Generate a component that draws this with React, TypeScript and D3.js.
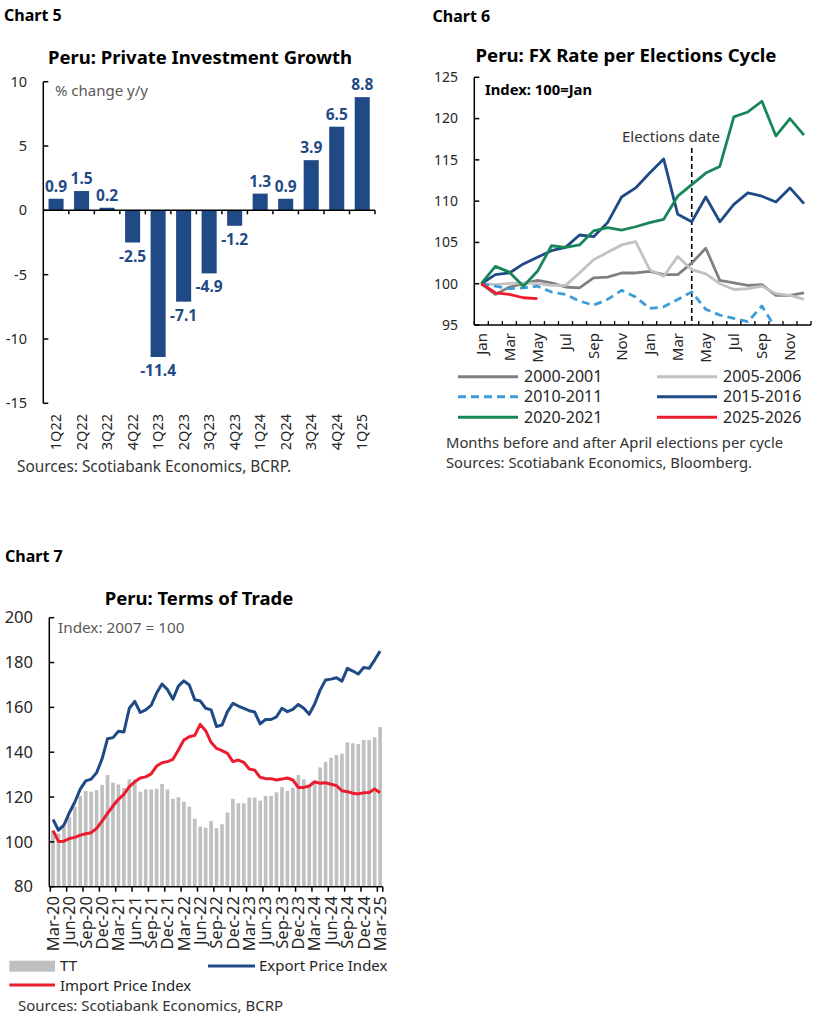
import React from 'react';
import * as d3 from 'd3';

// ---------- Chart 5 data ----------
const quarters = ['1Q22', '2Q22', '3Q22', '4Q22', '1Q23', '2Q23', '3Q23', '4Q23', '1Q24', '2Q24', '3Q24', '4Q24', '1Q25'];
const investmentGrowth = [0.9, 1.5, 0.2, -2.5, -11.4, -7.1, -4.9, -1.2, 1.3, 0.9, 3.9, 6.5, 8.8];
const chart5Ticks = [10, 5, 0, -5, -10, -15];

// ---------- Chart 6 data ----------
const cycleMonths = ['Jan', 'Feb', 'Mar', 'Apr', 'May', 'Jun', 'Jul', 'Aug', 'Sep', 'Oct', 'Nov', 'Dec',
  'Jan', 'Feb', 'Mar', 'Apr', 'May', 'Jun', 'Jul', 'Aug', 'Sep', 'Oct', 'Nov', 'Dec'];
const fx2000 = [100, 98.7, 99.6, 100, 100.4, 100.1, 99.6, 99.5, 100.7, 100.8, 101.3, 101.3, 101.5, 101.1, 101.1, 102.5, 104.3, 100.4, 100.1, 99.8, 99.9, 98.6, 98.6, 98.9];
const fx2005 = [100, 99.9, 100.05, 100.1, 100, 99.8, 99.8, 101.3, 102.9, 103.8, 104.7, 105.1, 101.7, 100.9, 103.3, 101.7, 101.2, 100, 99.3, 99.4, 99.7, 98.8, 98.6, 98.1];
const fx2010: (number | null)[] = [100, 99.7, 99.4, 99.5, 99.7, 99, 98.7, 97.9, 97.4, 98.1, 99.2, 98.4, 97, 97.2, 98.1, 99, 96.9, 96.2, 95.8, 95.4, 97.3, 94.6, null, null];
const fx2015 = [100, 101.1, 101.3, 102.4, 103.2, 104, 104.4, 105.9, 105.7, 107.4, 110.5, 111.6, 113.4, 115.1, 108.4, 107.5, 110.5, 107.5, 109.6, 111, 110.6, 109.9, 111.6, 109.7];
const fx2020 = [100, 102.1, 101.4, 99.7, 101.5, 104.6, 104.4, 104.7, 106.4, 106.8, 106.5, 106.9, 107.4, 107.8, 110.6, 112, 113.4, 114.2, 120.2, 120.8, 122.1, 117.9, 120, 118];
const fx2025 = [100, 98.9, 98.7, 98.3, 98.2];
const chart6Ticks = [125, 120, 115, 110, 105, 100, 95];
const electionMonthIndex = 15;

// ---------- Chart 7 data ----------
const tradeTickLabels = ['Mar-20', 'Jun-20', 'Sep-20', 'Dec-20', 'Mar-21', 'Jun-21', 'Sep-21', 'Dec-21', 'Mar-22', 'Jun-22', 'Sep-22',
  'Dec-22', 'Mar-23', 'Jun-23', 'Sep-23', 'Dec-23', 'Mar-24', 'Jun-24', 'Sep-24', 'Dec-24', 'Mar-25'];
const termsOfTrade = [105, 103.8, 106.8, 111, 115.7, 120.5, 122.7, 122.4, 123.1, 125.4, 129.8, 126.4, 125.6, 124, 127.9, 127.9, 122.4, 123.4, 123.4, 123.7,
  125.8, 123.4, 119.2, 119.9, 117.9, 115.7, 110.3, 106.8, 106.3, 109.3, 106.1, 107.9, 113.1, 119.2, 117.2, 117.2, 119.8, 119.8, 118.4, 120.5,
  120.5, 122.1, 124.4, 122.7, 124.1, 129.8, 127.9, 125.2, 127, 133.2, 135.7, 137.5, 138.7, 139.3, 144.4, 144, 143.6, 145.4, 145.4, 146.6, 151.2];
const exportPrice = [110, 105.2, 107.5, 113, 117.8, 123.5, 127.2, 128, 130.9, 137, 146, 146.5, 149.3, 149, 159.6, 162.7, 157.7, 158.9, 160.9, 166.4,
  170.4, 167.9, 163.6, 169.5, 171.8, 170, 163.4, 162.9, 159.6, 158.9, 151.5, 152.1, 158.1, 161.8, 160.6, 159.6, 158.5, 157.9, 152.6, 154.6,
  154.6, 155.8, 159.6, 158.1, 159.1, 161.3, 159.6, 156.9, 161.5, 167.7, 172.2, 172.6, 173.2, 171.7, 177.4, 176.2, 174.9, 177.8, 177.4, 181.1, 185.1];
const importPrice = [105, 100.2, 100.3, 101.5, 102, 103, 103.6, 104.1, 106, 109.3, 112.7, 116, 119, 121.2, 124.6, 126.8, 128.5, 129, 130.3, 133.8,
  135.3, 135.8, 136.8, 141, 145.4, 146.9, 147.5, 152.4, 149.6, 144.4, 141.7, 140.7, 139.5, 135.8, 136.5, 135.5, 132.5, 132, 128.8, 128.2,
  128.2, 127.6, 128, 128.5, 127.6, 124.3, 124.3, 124.9, 126.8, 126.1, 126.4, 125.7, 125.1, 122.8, 122.4, 121.7, 121.4, 121.9, 122, 123.6, 121.9];
const chart7Ticks = [200, 180, 160, 140, 120, 100, 80];

const FONT = '"Noto Sans", "Open Sans", sans-serif';
const NAVY = '#1f4a85';
const RED = '#ec1c2e';
const GREEN = '#17875a';
const LIGHTBLUE = '#3d9cd9';
const DARKGRAY = '#808080';
const LIGHTGRAY = '#c2c2c2';
const BARGRAY = '#c0c0c0';
const TICKTEXT = '#262626';

function Chart5() {
  const x = d3.scaleBand<string>().domain(quarters).range([43.3, 375]).paddingInner(0.41).paddingOuter(0.205);
  const y = d3.scaleLinear().domain([-15, 10]).range([403.3, 81.7]);
  const y0 = y(0);
  const step = x.step();
  return (
    <g>
      <text x={4} y={21} fontSize={16} fontWeight={700} fill="#000">Chart 5</text>
      <text x={200} y={64} fontSize={18.5} fontWeight={700} textAnchor="middle" fill="#000">Peru: Private Investment Growth</text>
      <text x={55} y={96} fontSize={15} fill="#595959">% change y/y</text>
      {quarters.map((q, i) => {
        const v = investmentGrowth[i];
        const bx = x(q)!;
        const top = v >= 0 ? y(v) : y0;
        const h = Math.abs(y(v) - y0);
        const cx = bx + x.bandwidth() / 2;
        return (
          <g key={q}>
            <rect x={bx} y={top} width={x.bandwidth()} height={h} fill={NAVY} />
            <text x={cx} y={v >= 0 ? y(v) - 7 : y(v) + 19} fontSize={15.5} fontWeight={700} fill={NAVY} textAnchor="middle">{v.toFixed(1)}</text>
            <text transform={`translate(${cx},414) rotate(-90)`} fontSize={14.5} fill={TICKTEXT} textAnchor="end" dy="0.35em">{q}</text>
          </g>
        );
      })}
      <line x1={43.3} x2={43.3} y1={81.7} y2={403.3} stroke="#000" strokeWidth={1.5} />
      {chart5Ticks.map(t => (
        <g key={t}>
          <line x1={43.3} x2={48.3} y1={y(t)} y2={y(t)} stroke="#000" strokeWidth={1.5} />
          <text x={27} y={y(t)} dy="0.35em" fontSize={14.5} fill={TICKTEXT} textAnchor="end">{t}</text>
        </g>
      ))}
      <line x1={43.3} x2={375} y1={y0} y2={y0} stroke="#000" strokeWidth={1.5} />
      {d3.range(1, quarters.length + 1).map(k => (
        <line key={k} x1={43.3 + step * k} x2={43.3 + step * k} y1={y0} y2={y0 + 4} stroke="#000" strokeWidth={1.5} />
      ))}
      <text x={17} y={472} fontSize={15.4} fill="#333">Sources: Scotiabank Economics, BCRP.</text>
    </g>
  );
}

function Chart6() {
  const x = d3.scaleBand<number>().domain(d3.range(cycleMonths.length)).range([474.3, 811]);
  const y = d3.scaleLinear().domain([95, 125]).range([325, 77.3]);
  const cx = (i: number) => x(i)! + x.bandwidth() / 2;
  const line = d3.line<number | null>().defined(d => d != null).x((_, i) => cx(i)).y(d => y(d as number));
  const series = [
    { data: fx2000, color: DARKGRAY, dash: undefined },
    { data: fx2005, color: LIGHTGRAY, dash: undefined },
    { data: fx2010, color: LIGHTBLUE, dash: '8,5' },
    { data: fx2015, color: NAVY, dash: undefined },
    { data: fx2020, color: GREEN, dash: undefined },
    { data: fx2025, color: RED, dash: undefined },
  ];
  const legend = [
    { label: '2000-2001', color: DARKGRAY, dash: undefined, col: 0, row: 0 },
    { label: '2005-2006', color: LIGHTGRAY, dash: undefined, col: 1, row: 0 },
    { label: '2010-2011', color: LIGHTBLUE, dash: '8,5', col: 0, row: 1 },
    { label: '2015-2016', color: NAVY, dash: undefined, col: 1, row: 1 },
    { label: '2020-2021', color: GREEN, dash: undefined, col: 0, row: 2 },
    { label: '2025-2026', color: RED, dash: undefined, col: 1, row: 2 },
  ];
  const ex = cx(electionMonthIndex);
  return (
    <g>
      <text x={432.5} y={21.5} fontSize={16} fontWeight={700} fill="#000">Chart 6</text>
      <text x={626} y={62} fontSize={18.6} fontWeight={700} textAnchor="middle" fill="#000">Peru: FX Rate per Elections Cycle</text>
      <defs>
        <clipPath id="clip6"><rect x={474.3} y={77.3} width={811 - 474.3} height={325 - 77.3} /></clipPath>
      </defs>
      <text x={485} y={94.5} fontSize={14.8} fontWeight={700} fill="#000">Index: 100=Jan</text>
      <line x1={ex} x2={ex} y1={148} y2={325} stroke="#000" strokeWidth={1.6} strokeDasharray="5,3" />
      <text x={671} y={142} fontSize={15} fill="#333" textAnchor="middle">Elections date</text>
      <g clipPath="url(#clip6)">
        {series.map((s, k) => (
          <path key={k} d={line(s.data)!} fill="none" stroke={s.color} strokeWidth={2.8} strokeDasharray={s.dash} strokeLinejoin="round" />
        ))}
      </g>
      <line x1={474.3} x2={474.3} y1={77.3} y2={325} stroke="#000" strokeWidth={1.5} />
      {chart6Ticks.map(t => (
        <g key={t}>
          <line x1={474.3} x2={479.3} y1={y(t)} y2={y(t)} stroke="#000" strokeWidth={1.5} />
          <text x={458} y={y(t)} dy="0.35em" fontSize={14} fill={TICKTEXT} textAnchor="end">{t}</text>
        </g>
      ))}
      <line x1={474.3} x2={811} y1={325} y2={325} stroke="#000" strokeWidth={1.5} />
      {d3.range(0, cycleMonths.length + 1).map(k => (
        <line key={k} x1={474.3 + x.step() * k} x2={474.3 + x.step() * k} y1={325} y2={321} stroke="#000" strokeWidth={1.3} />
      ))}
      {cycleMonths.map((m, i) => i % 2 === 0 ? (
        <text key={i} transform={`translate(${cx(i)},333) rotate(-90)`} fontSize={15} fill={TICKTEXT} textAnchor="end" dy="0.35em">{m}</text>
      ) : null)}
      {legend.map(l => {
        const lx = l.col === 0 ? 458 : 657;
        const ly = [376.7, 396.7, 417.3][l.row];
        return (
          <g key={l.label}>
            <line x1={lx} x2={lx + 60} y1={ly} y2={ly} stroke={l.color} strokeWidth={3} strokeDasharray={l.dash} />
            <text x={lx + 66} y={ly} dy="0.35em" fontSize={16} fill="#262626">{l.label}</text>
          </g>
        );
      })}
      <text x={446} y={447.5} fontSize={14.8} fill="#333">Months before and after April elections per cycle</text>
      <text x={446} y={468.3} fontSize={14.8} fill="#333">Sources: Scotiabank Economics, Bloomberg.</text>
    </g>
  );
}

function Chart7() {
  const n = termsOfTrade.length;
  const x = d3.scaleBand<number>().domain(d3.range(n)).range([50.3, 382.8]).paddingInner(0.32).paddingOuter(0.16);
  const y = d3.scaleLinear().domain([80, 200]).range([886.7, 617.7]);
  const cx = (i: number) => x(i)! + x.bandwidth() / 2;
  const line = d3.line<number>().x((_, i) => cx(i)).y(d => y(d));
  const step = x.step();
  const left = 50.3;
  const tickBounds = [...d3.range(0, n, 3), n];
  return (
    <g>
      <text x={5} y={561.5} fontSize={16} fontWeight={700} fill="#000">Chart 7</text>
      <text x={199} y={605} fontSize={18.5} fontWeight={700} textAnchor="middle" fill="#000">Peru: Terms of Trade</text>
      {termsOfTrade.map((v, i) => (
        <rect key={i} x={x(i)} y={y(v)} width={x.bandwidth()} height={y(80) - y(v)} fill={BARGRAY} />
      ))}
      <path d={line(exportPrice)!} fill="none" stroke={NAVY} strokeWidth={3} strokeLinejoin="round" />
      <path d={line(importPrice)!} fill="none" stroke={RED} strokeWidth={3} strokeLinejoin="round" />
      <text x={58} y={633} fontSize={15.3} fill="#595959">Index: 2007 = 100</text>
      <line x1={49.3} x2={49.3} y1={617.7} y2={886.7} stroke="#000" strokeWidth={1.5} />
      {chart7Ticks.map(t => (
        <g key={t}>
          <line x1={49.3} x2={54.3} y1={y(t)} y2={y(t)} stroke="#000" strokeWidth={1.5} />
          <text x={33} y={y(t)} dy="0.35em" fontSize={16.5} fill={TICKTEXT} textAnchor="end">{t}</text>
        </g>
      ))}
      <line x1={49.3} x2={382.8} y1={886.7} y2={886.7} stroke="#000" strokeWidth={1.5} />
      {tickBounds.map(k => (
        <line key={k} x1={left + step * k} x2={left + step * k} y1={886.7} y2={891.7} stroke="#000" strokeWidth={1.5} />
      ))}
      {tradeTickLabels.map((lab, j) => (
        <text key={lab} transform={`translate(${cx(j * 3)},896) rotate(-90)`} fontSize={16.5} fill={TICKTEXT} textAnchor="end" dy="0.35em">{lab}</text>
      ))}
      <rect x={9.3} y={960.7} width={45.7} height={11} fill={BARGRAY} />
      <text x={60} y={971} fontSize={15} fill="#262626">TT</text>
      <line x1={208} x2={255} y1={966} y2={966} stroke={NAVY} strokeWidth={3} />
      <text x={259} y={971} fontSize={15} fill="#262626">Export Price Index</text>
      <line x1={9.3} x2={55} y1={985} y2={985} stroke={RED} strokeWidth={3} />
      <text x={60} y={990.5} fontSize={15} fill="#262626">Import Price Index</text>
      <text x={18} y={1010.5} fontSize={15} fill="#333">Sources: Scotiabank Economics, BCRP</text>
    </g>
  );
}

export default function App() {
  return (
    <svg width={828} height={1023} viewBox="0 0 828 1023"
      style={{ position: 'absolute', left: 0, top: 0, background: '#fff', fontFamily: FONT }}>
      <rect x={0} y={0} width={828} height={1023} fill="#fff" />
      <Chart5 />
      <Chart6 />
      <Chart7 />
    </svg>
  );
}
